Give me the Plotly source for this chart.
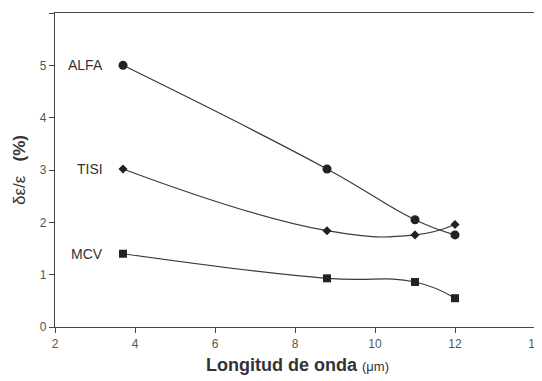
import plotly.graph_objects as go

wavelength = [3.7, 8.8, 11.0, 12.0]
alfa = [5.0, 3.02, 2.05, 1.76]
tisi = [3.02, 1.84, 1.76, 1.96]
mcv = [1.4, 0.93, 0.86, 0.55]
series_names = ["ALFA", "TISI", "MCV"]
x_ticks = [2, 4, 6, 8, 10, 12, 14]
y_ticks = [0, 1, 2, 3, 4, 5, 6]

fig = go.Figure()
markers = ["circle", "diamond", "square"]
sizes = [9, 7, 8]
for name, vals, sym, sz in zip(series_names, [alfa, tisi, mcv], markers, sizes):
    fig.add_trace(go.Scatter(
        x=wavelength, y=vals, mode="lines+markers", name=name,
        line=dict(color="#3a3a3a", width=1.2, shape="spline", smoothing=1.3),
        marker=dict(symbol=sym, size=sz, color="#222222"),
        showlegend=False,
    ))
    fig.add_annotation(x=wavelength[0], y=vals[0], text=name, showarrow=False,
                       xanchor="right", xshift=-18, yanchor="middle",
                       font=dict(family="Liberation Sans", size=14, color="#333333"))

axis_common = dict(showline=True, linecolor="#444444", linewidth=1.2, mirror=True,
                   ticks="outside", ticklen=5, tickcolor="#444444", showgrid=False,
                   zeroline=False, automargin=False,
                   tickfont=dict(family="Liberation Sans", size=12, color="#555555"))

# the page body adds an 8px offset, so the figure is sized/margined to compensate
fig.update_layout(
    width=534, height=373,
    margin=dict(l=47, r=7, t=5, b=54),
    plot_bgcolor="white", paper_bgcolor="white",
    xaxis=dict(range=[2, 14], tickvals=x_ticks, **axis_common),
    yaxis=dict(range=[0, 6], tickvals=y_ticks, **axis_common),
)

# axis titles
fig.add_annotation(xref="paper", yref="paper", x=0.505, y=-0.121, showarrow=False,
                   xanchor="center", yanchor="middle",
                   text="<b>Longitud de onda</b> <span style='font-size:13px'>(μm)</span>",
                   font=dict(family="Liberation Sans", size=18, color="#333333"))
fig.add_annotation(xref="paper", yref="paper", x=-0.075, y=0.5, showarrow=False,
                   textangle=-90, xanchor="center", yanchor="middle",
                   text="δε/ε   <b>(%)</b>",
                   font=dict(family="Liberation Sans", size=17, color="#333333"))

fig.write_html("out.html")
